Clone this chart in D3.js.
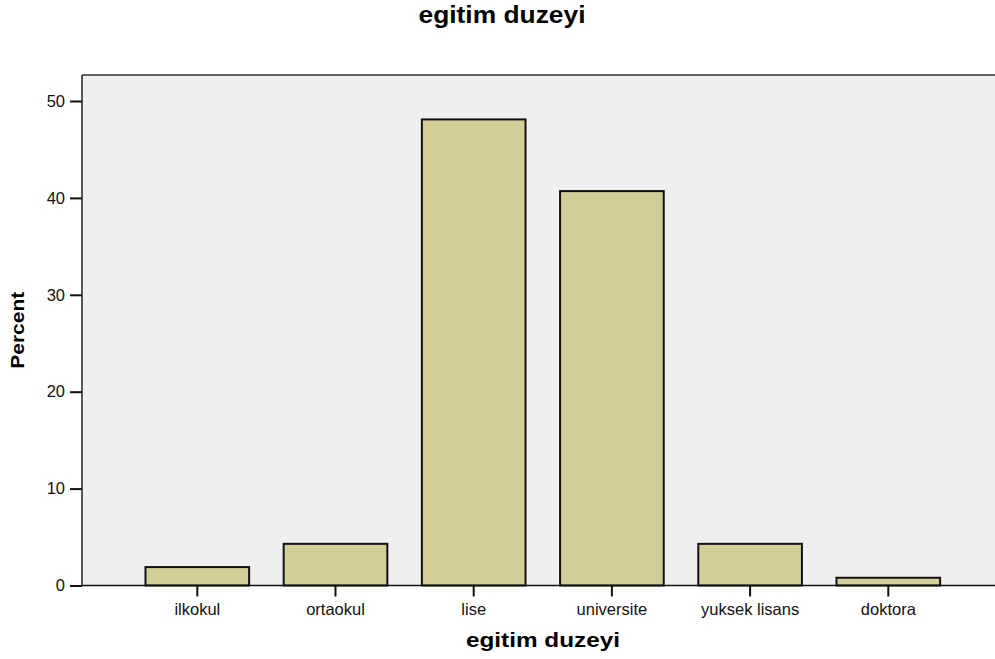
<!DOCTYPE html>
<html>
<head>
<meta charset="utf-8">
<script src="https://cdn.jsdelivr.net/npm/d3@7"></script>
<style>
  body { margin: 0; background: #fff; }
  svg { display: block; font-family: "Liberation Sans", Arial, sans-serif; }
</style>
</head>
<body>
<div id="app"></div>
<script>
const categories = ["ilkokul", "ortaokul", "lise", "universite", "yuksek lisans", "doktora"];
const percents = [1.9, 4.3, 48.1, 40.7, 4.3, 0.8];
const yTicks = [0, 10, 20, 30, 40, 50];

const width = 995, height = 659;
const plot = { left: 82, top: 75, right: 1004, bottom: 585.5 };
const font = "Liberation Sans, Arial, sans-serif";

const svg = d3.select("#app")
  .append("svg")
  .attr("width", width)
  .attr("height", height);

// plot background
svg.append("rect")
  .attr("x", plot.left)
  .attr("y", plot.top)
  .attr("width", plot.right - plot.left)
  .attr("height", plot.bottom - plot.top)
  .attr("fill", "#efefef");

svg.append("line")
  .attr("x1", plot.left).attr("x2", plot.right)
  .attr("y1", plot.top).attr("y2", plot.top)
  .attr("stroke", "#333").attr("stroke-width", 1.5);

const x = d3.scaleBand()
  .domain(categories)
  .range([128.2, 957.4])
  .paddingInner(0.25)
  .paddingOuter(0.125);

const y = d3.scaleLinear()
  .domain([0, 50])
  .range([plot.bottom, 101]);

// bars
svg.append("g")
  .selectAll("rect")
  .data(categories)
  .join("rect")
  .attr("x", d => x(d))
  .attr("width", x.bandwidth())
  .attr("y", (d, i) => y(percents[i]))
  .attr("height", (d, i) => y(0) - y(percents[i]))
  .attr("fill", "#d3ce98")
  .attr("stroke", "#111")
  .attr("stroke-width", 2);

// y axis
const yAxis = svg.append("g")
  .attr("transform", `translate(${plot.left},0)`)
  .call(d3.axisLeft(y).tickValues(yTicks).tickSize(12).tickPadding(5).tickSizeOuter(0));
yAxis.select(".domain").attr("d", `M0,${plot.top}V${plot.bottom}`).attr("stroke", "#222").attr("stroke-width", 1.5);
yAxis.selectAll(".tick line").attr("stroke", "#111").attr("stroke-width", 2);
yAxis.selectAll(".tick text").attr("font-size", 16.5).attr("fill", "#111").attr("font-family", font);

// x axis
const xAxis = svg.append("g")
  .attr("transform", `translate(0,${plot.bottom})`)
  .call(d3.axisBottom(x).tickSize(11).tickPadding(6.5).tickSizeOuter(0));
xAxis.select(".domain").attr("d", `M${plot.left},0H${plot.right}`).attr("stroke", "#111").attr("stroke-width", 1.5);
xAxis.selectAll(".tick line").attr("stroke", "#111").attr("stroke-width", 2);
xAxis.selectAll(".tick text").attr("font-size", 16.5).attr("fill", "#111").attr("font-family", font);

// titles
svg.append("text")
  .attr("x", 502).attr("y", 23)
  .attr("text-anchor", "middle")
  .attr("font-size", 23).attr("font-weight", "bold")
  .attr("textLength", 167).attr("lengthAdjust", "spacingAndGlyphs")
  .text("egitim duzeyi");

svg.append("text")
  .attr("x", 543).attr("y", 647)
  .attr("text-anchor", "middle")
  .attr("font-size", 21).attr("font-weight", "bold")
  .attr("textLength", 154).attr("lengthAdjust", "spacingAndGlyphs")
  .text("egitim duzeyi");

svg.append("text")
  .attr("transform", `translate(24,${(plot.top + plot.bottom) / 2}) rotate(-90)`)
  .attr("text-anchor", "middle")
  .attr("font-size", 19).attr("font-weight", "bold")
  .attr("textLength", 77).attr("lengthAdjust", "spacingAndGlyphs")
  .text("Percent");
</script>
</body>
</html>
